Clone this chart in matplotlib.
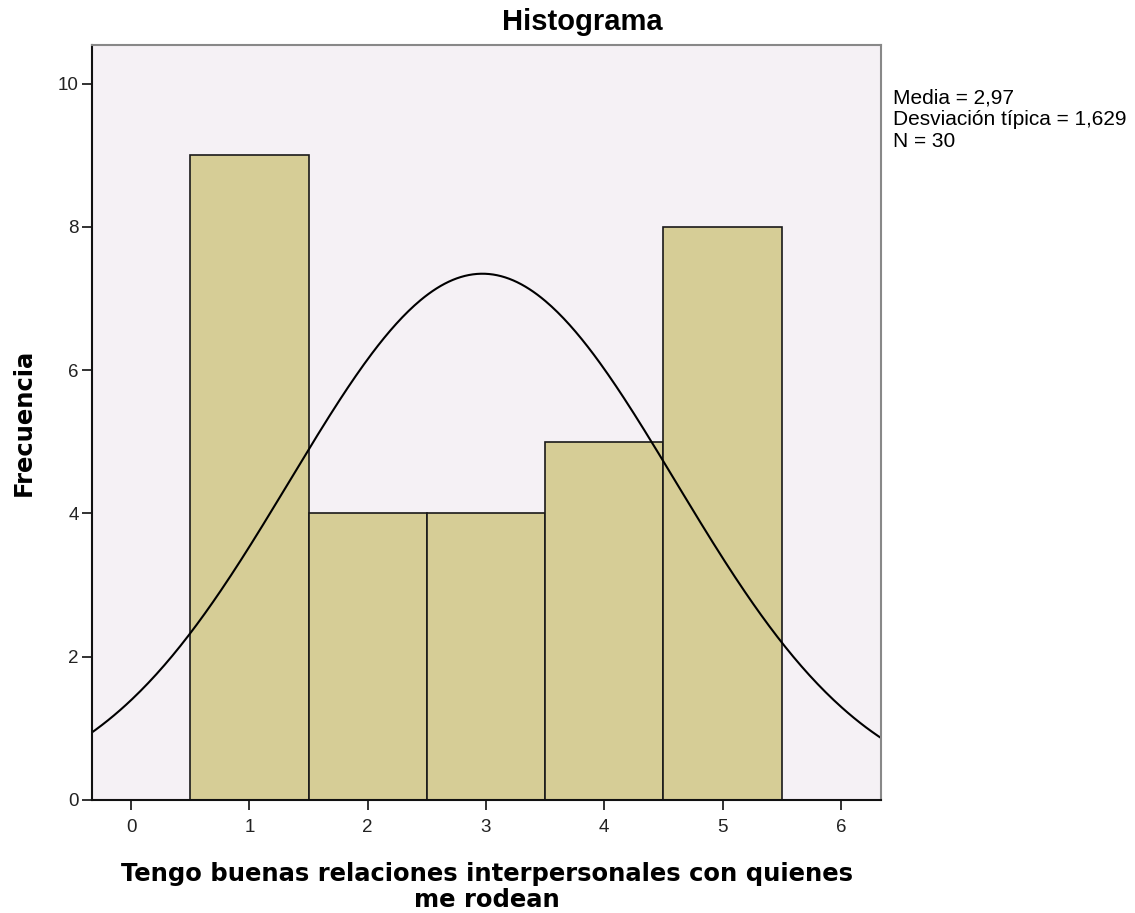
import numpy as np
import matplotlib.pyplot as plt

plt.rcParams['font.family'] = ['Liberation Sans', 'DejaVu Sans']

# valores de la escala y frecuencias
valores = [1, 2, 3, 4, 5]
frecuencias = [9, 4, 4, 5, 8]
media = 2.97
desv = 1.629
n = 30

fig = plt.figure(figsize=(11.35, 9.13), dpi=100)
ax = fig.add_axes([0.0811, 0.1238, 0.6952, 0.8269])
ax.set_facecolor("#F5F1F5")

ax.bar(valores, frecuencias, width=1.0, color="#D6CD96", edgecolor="#1a1a1a", linewidth=1.2)

x = np.linspace(-0.4, 6.4, 400)
y = n * 1.0 / (desv * np.sqrt(2 * np.pi)) * np.exp(-0.5 * ((x - media) / desv) ** 2)
ax.plot(x, y, color="black", linewidth=1.5)

ax.set_xlim(-0.33, 6.34)
ax.set_ylim(0, 10.54)
ax.set_xticks(range(0, 7))
ax.set_yticks(range(0, 11, 2))
ax.tick_params(axis="both", labelsize=13.5, direction="out", length=7.5, width=1.3, colors="#222222")
ax.tick_params(axis="x", pad=6)
ax.tick_params(axis="y", pad=2)

for s in ["top", "right"]:
    ax.spines[s].set_color("#888888")
    ax.spines[s].set_linewidth(1.5)
for s in ["left", "bottom"]:
    ax.spines[s].set_color("#111111")
    ax.spines[s].set_linewidth(1.5)

ax.set_xlabel("Tengo buenas relaciones interpersonales con quienes\nme rodean",
              fontsize=17.5, fontweight="bold", family="DejaVu Sans",
              labelpad=19, linespacing=1.1)
ax.set_ylabel("Frecuencia", fontsize=17.5, fontweight="bold", family="DejaVu Sans",
              labelpad=16)

fig.text(582 / 1135, 1 - 22 / 913, "Histograma", fontsize=21, fontweight="bold",
         ha="center", va="center")
fig.text(893 / 1135, 1 - 88 / 913,
         "Media = 2,97\nDesviación típica = 1,629\nN = 30",
         fontsize=15, ha="left", va="top", linespacing=1.2)

fig.savefig("out.png", dpi=100)
